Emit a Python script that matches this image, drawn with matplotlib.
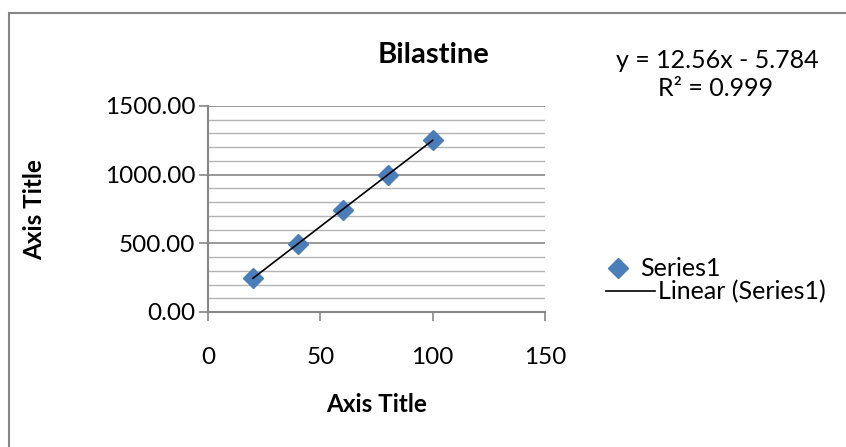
import numpy as np
import matplotlib
matplotlib.use("Agg")
import matplotlib.pyplot as plt
from matplotlib.lines import Line2D
from matplotlib.patches import Rectangle
from matplotlib.ticker import MultipleLocator, FormatStrFormatter

plt.rcParams["font.family"] = ["Lato", "DejaVu Sans"]

# concentration vs. peak area
conc = [20, 40, 60, 80, 100]
area = [251, 494, 741, 999, 1254]

slope = 12.56
intercept = -5.784
r_squared = 0.999

x_ticks = [0, 50, 100, 150]
y_ticks = [0, 500, 1000, 1500]

W, H = 846, 447
fig = plt.figure(figsize=(W / 100, H / 100), dpi=100)

FS = 17.5
FS_NOTE = 18


def fx(px):
    return px / W


def fy(py):
    return 1 - py / H


# chart-area border
fig.patches.append(Rectangle((fx(9), fy(460)), fx(860) - fx(9), fy(13) - fy(460),
                             transform=fig.transFigure, fill=False,
                             edgecolor="#868686", linewidth=1.5))

ax = fig.add_axes([fx(208), fy(312), fx(545) - fx(208), fy(106) - fy(312)])

ax.plot(conc, area, linestyle="none", marker="D", markersize=10.5,
        color="#4a7ebb", markeredgecolor="#4a7ebb", zorder=3)
fit_x = np.array([conc[0], conc[-1]])
ax.plot(fit_x, slope * fit_x + intercept, color="black", linewidth=1.2,
        zorder=4)

ax.set_xlim(x_ticks[0], x_ticks[-1])
ax.set_ylim(y_ticks[0], y_ticks[-1])
ax.set_xticks(x_ticks)
ax.set_yticks(y_ticks)
ax.yaxis.set_minor_locator(MultipleLocator(100))
ax.yaxis.set_major_formatter(FormatStrFormatter("%.2f"))

ax.grid(True, axis="y", which="major", color="#868686", linewidth=1.2)
ax.grid(True, axis="y", which="minor", color="#b4b4b4", linewidth=1.0)
ax.set_axisbelow(True)

for side in ["top", "right"]:
    ax.spines[side].set_visible(False)
for side in ["left", "bottom"]:
    ax.spines[side].set_color("#868686")
    ax.spines[side].set_linewidth(1.5)

ax.tick_params(axis="y", which="major", direction="out", length=6.5, width=1.2,
               color="#868686", labelsize=FS, pad=2.5)
ax.tick_params(axis="y", which="minor", length=0)
ax.tick_params(axis="x", direction="out", length=6.5, width=1.2,
               color="#868686", labelsize=FS, pad=19)

fig.text(fx(433), fy(55), "Bilastine", ha="center", va="center",
         fontsize=21, fontweight="bold")
fig.text(fx(377), fy(405), "Axis Title", ha="center", va="center",
         fontsize=FS, fontweight="bold")
fig.text(fx(35), fy(210), "Axis Title", ha="center", va="center",
         fontsize=FS, fontweight="bold", rotation=90)

fig.text(fx(717), fy(61), f"y = {slope}x - {abs(intercept)}", ha="center",
         va="center", fontsize=FS_NOTE)
fig.text(fx(716), fy(88), f"R² = {r_squared}", ha="center", va="center",
         fontsize=FS_NOTE)

# legend: marker entry and trendline entry have different key widths
em = FS_NOTE * 100 / 72
leg1 = fig.legend([Line2D([], [], linestyle="none", marker="D", markersize=10.5,
                          color="#4a7ebb")], ["Series1"],
                  loc="center left", bbox_to_anchor=(fx(606), fy(269)),
                  frameon=False, fontsize=FS_NOTE, handlelength=24 / em,
                  handletextpad=10 / em, borderpad=0, borderaxespad=0)
leg2 = fig.legend([Line2D([], [], color="black", linewidth=1.2)],
                  ["Linear (Series1)"],
                  loc="center left", bbox_to_anchor=(fx(606), fy(292)),
                  frameon=False, fontsize=FS_NOTE, handlelength=49 / em,
                  handletextpad=3 / em, borderpad=0, borderaxespad=0)

fig.savefig("out.png", dpi=100)
